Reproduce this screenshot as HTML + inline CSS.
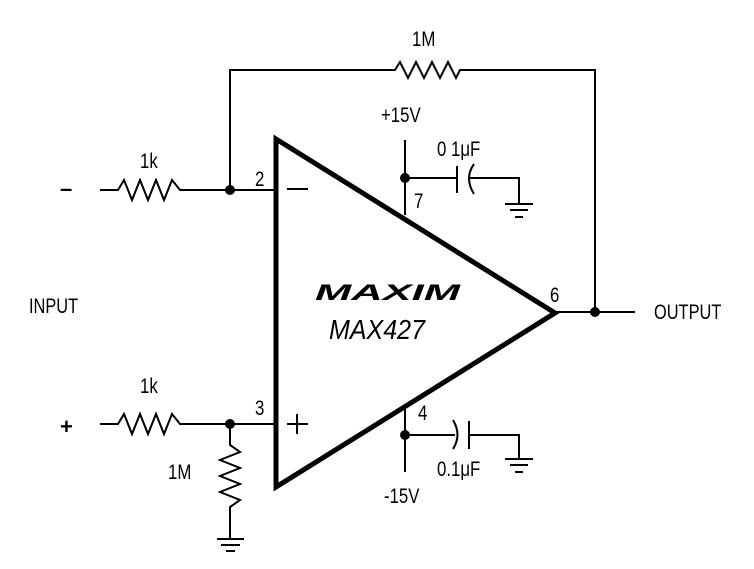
<!DOCTYPE html>
<html><head><meta charset="utf-8"><style>
html,body{margin:0;padding:0;background:#fff;}
svg{display:block;}
text{font-family:"Liberation Sans",sans-serif;fill:#000;}
</style></head><body>
<svg width="754" height="569" viewBox="0 0 754 569" xmlns="http://www.w3.org/2000/svg">
<g fill="none" stroke="#000" stroke-width="2">
<polyline points="230,190 230,70 395,70 400,62 408,78 416,62 424,78 432,62 440,78 448,62 456,78 460,70 595,70 595,312"/>
<polyline points="100,190 118,190 124,180 132,200 140,180 148,200 156,180 164,200 172,180 180,190 275,190"/>
<polyline points="100,424 118,424 124,414 132,434 140,414 148,434 156,414 164,434 172,414 180,424 275,424"/>
<polyline points="230,424 230,445 240,452 220,460 240,468 220,476 240,484 220,492 240,500 230,507 230,538"/>
<line x1="217" y1="539" x2="244" y2="539"/><line x1="221" y1="545" x2="240" y2="545"/><line x1="226" y1="551" x2="235" y2="551"/>
<line x1="555" y1="312" x2="635" y2="312"/>
<line x1="405" y1="140" x2="405" y2="215"/>
<line x1="405" y1="178" x2="456" y2="178"/>
<line x1="457" y1="166" x2="457" y2="193"/>
<path d="M474,164 Q464,178 474,194"/>
<polyline points="469,178 519,178 519,203"/>
<line x1="505" y1="204" x2="533" y2="204"/><line x1="510" y1="210" x2="528" y2="210"/><line x1="515" y1="217" x2="523" y2="217"/>
<line x1="405" y1="405" x2="405" y2="472"/>
<line x1="405" y1="435" x2="455" y2="435"/>
<path d="M453,420 Q462,435 453,449"/>
<line x1="469" y1="421" x2="469" y2="449"/>
<polyline points="469,435 519,435 519,458"/>
<line x1="505" y1="459" x2="533" y2="459"/><line x1="510" y1="465" x2="528" y2="465"/><line x1="515" y1="472" x2="523" y2="472"/>
<line x1="287" y1="189" x2="308" y2="189"/>
<line x1="287" y1="424" x2="308" y2="424"/><line x1="297" y1="414" x2="297" y2="434"/>
</g>
<polygon points="276,139 276,487 555,313" fill="none" stroke="#000" stroke-width="5" stroke-linejoin="miter"/>
<g fill="#000">
<circle cx="230" cy="190" r="5"/><circle cx="230" cy="424" r="5"/>
<circle cx="595" cy="312" r="5"/><circle cx="405" cy="178" r="5"/><circle cx="405" cy="435" r="5"/>
</g>
<g font-size="21">
<text x="412" y="46" transform="translate(412,0) scale(0.8,1) translate(-412,0)">1M</text>
<text x="140" y="168" transform="translate(140,0) scale(0.8,1) translate(-140,0)">1k</text>
<text x="140" y="393" transform="translate(140,0) scale(0.8,1) translate(-140,0)">1k</text>
<text x="255" y="186" transform="translate(255,0) scale(0.8,1) translate(-255,0)">2</text>
<text x="255" y="415" transform="translate(255,0) scale(0.8,1) translate(-255,0)">3</text>
<text x="414" y="208" transform="translate(414,0) scale(0.8,1) translate(-414,0)">7</text>
<text x="418" y="420" transform="translate(418,0) scale(0.8,1) translate(-418,0)">4</text>
<text x="550" y="302" transform="translate(550,0) scale(0.8,1) translate(-550,0)">6</text>
<text x="381" y="122" transform="translate(381,0) scale(0.8,1) translate(-381,0)">+15V</text>
<text x="384" y="503" transform="translate(384,0) scale(0.8,1) translate(-384,0)">-15V</text>
<text x="437" y="156" transform="translate(437,0) scale(0.8,1) translate(-437,0)">0 1μF</text>
<text x="437" y="476" transform="translate(437,0) scale(0.8,1) translate(-437,0)">0.1μF</text>
<text x="168" y="479" transform="translate(168,0) scale(0.8,1) translate(-168,0)">1M</text>
<text x="29" y="313" transform="translate(29,0) scale(0.78,1) translate(-29,0)">INPUT</text>
<text x="654" y="319" transform="translate(654,0) scale(0.78,1) translate(-654,0)">OUTPUT</text>
</g>
<text x="60" y="196" font-size="22" font-weight="bold">–</text>
<text x="60" y="434" font-size="22" font-weight="bold">+</text>
<text x="315" y="300" font-size="22" font-weight="900" font-style="italic" textLength="145" lengthAdjust="spacingAndGlyphs">MAXIM</text>
<text x="329" y="339" font-size="28" font-style="italic" textLength="96" lengthAdjust="spacingAndGlyphs">MAX427</text>
</svg>
</body></html>
